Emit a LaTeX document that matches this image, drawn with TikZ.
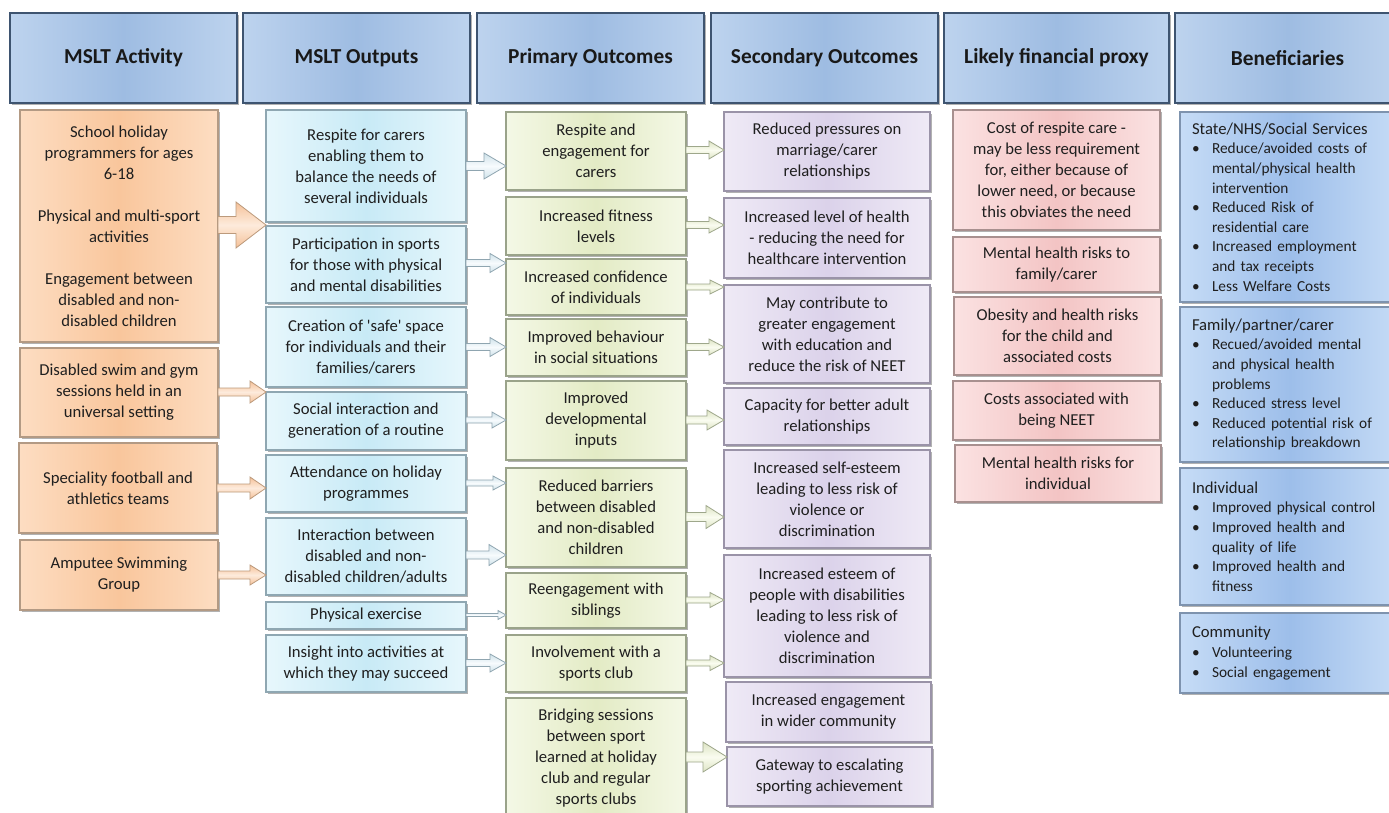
\documentclass[tikz,border=0pt]{standalone}
\usepackage{fontspec}
\newfontfamily\bodyfont{Carlito}
\usetikzlibrary{shadows,calc}

% palette
\definecolor{hdrA}{HTML}{BDD3EE}
\definecolor{hdrB}{HTML}{9EBCE2}
\definecolor{hdrLine}{HTML}{3E5470}
\definecolor{orA}{HTML}{FDDDC2}
\definecolor{orB}{HTML}{F9C69C}
\definecolor{orLine}{HTML}{B39A84}
\definecolor{cyA}{HTML}{E7F7FC}
\definecolor{cyB}{HTML}{C8EAF6}
\definecolor{cyLine}{HTML}{8FA7B2}
\definecolor{grA}{HTML}{F4F8E6}
\definecolor{grB}{HTML}{E3EBC5}
\definecolor{grLine}{HTML}{9AA38A}
\definecolor{puA}{HTML}{EFEAF6}
\definecolor{puB}{HTML}{DBD2EA}
\definecolor{puLine}{HTML}{9A93A8}
\definecolor{pkA}{HTML}{FBE2E2}
\definecolor{pkB}{HTML}{F3C4C4}
\definecolor{pkLine}{HTML}{A8908F}
\definecolor{bnA}{HTML}{C6DCF6}
\definecolor{bnB}{HTML}{9DBEEA}
\definecolor{bnLine}{HTML}{7E93AE}
\definecolor{oaA}{HTML}{FDEBDC}
\definecolor{oaB}{HTML}{F5C198}
\definecolor{oaLine}{HTML}{BC9A7C}
\definecolor{caA}{HTML}{F7FBFD}
\definecolor{caB}{HTML}{CFE2EA}
\definecolor{caLine}{HTML}{8FA5B0}
\definecolor{gaA}{HTML}{FAFCF0}
\definecolor{gaB}{HTML}{DDE4C4}
\definecolor{gaLine}{HTML}{9EA78B}

\tikzset{
  cell/.style={inner sep=0pt, outer sep=0pt, align=center,
    font=\bodyfont\fontsize{12.5}{15.75}\selectfont, text=black!88,
    line width=1.2pt,
    drop shadow={shadow xshift=1.3pt, shadow yshift=-1.3pt, opacity=0.3, fill=black}},
  hdr/.style={cell, draw=hdrLine, line width=2.2pt,
    left color=hdrA, right color=hdrA, middle color=hdrB,
    font=\bodyfont\bfseries\fontsize{16}{19}\selectfont, text=black!90},
  act/.style={cell, draw=orLine, left color=orA, right color=orA, middle color=orB},
  outp/.style={cell, draw=cyLine, left color=cyA, right color=cyA, middle color=cyB},
  prim/.style={cell, draw=grLine, left color=grA, right color=grA, middle color=grB},
  seco/.style={cell, draw=puLine, left color=puA, right color=puA, middle color=puB},
  proxy/.style={cell, draw=pkLine, left color=pkA, right color=pkA, middle color=pkB},
  ben/.style={cell, draw=bnLine, left color=bnA, right color=bnA, middle color=bnB,
    align=left, text width=147pt,
    font=\bodyfont\fontsize{11.5}{14.7}\selectfont},
  oarrow/.style={draw=oaLine, line width=0.6pt, top color=oaB, bottom color=oaB, middle color=oaA},
  carrow/.style={draw=caLine, line width=0.6pt, top color=caB, bottom color=caB, middle color=caA},
  garrow/.style={draw=gaLine, line width=0.6pt, top color=gaB, bottom color=gaB, middle color=gaA}
}

% box given by its corners (x1,y1) (x2,y2) in pixel units
\newcommand\cellbox[7]{\node[#2, minimum width={(#5-#3)*0.75pt},
  minimum height={(#6-#4)*0.75pt}] (#1) at ({(#3+#5)/2},{(#4+#6)/2}) {#7};}

% block arrow from the east side of #2 to the west side of #3 at height #4;
% #5 half shaft, #6 half head, #7 head length (pixel units)
\newcommand\blockarrow[7]{%
  \draw[#1] let \p1=(#2.east), \p2=(#3.west), \p3=(0,#4) in
    (\x1,\y3+#5*0.75pt) -- (\x2-#7*0.75pt,\y3+#5*0.75pt)
    -- (\x2-#7*0.75pt,\y3+#6*0.75pt) -- (\x2,\y3)
    -- (\x2-#7*0.75pt,\y3-#6*0.75pt) -- (\x2-#7*0.75pt,\y3-#5*0.75pt)
    -- (\x1,\y3-#5*0.75pt) -- cycle;}

\newcommand\bul[1]{\makebox[15pt][l]{\textbullet}\mbox{#1}}
\newcommand\cnt[1]{\hspace*{15pt}\mbox{#1}}
\newcommand\bhead[1]{{\fontsize{12.5}{14.7}\selectfont #1}}

\begin{document}
\begin{tikzpicture}[x=0.75pt, y=-0.75pt]
\useasboundingbox (0,0) rectangle (1389,813);
\fill[white] (0,0) rectangle (1389,813);
\clip (0,0) rectangle (1389,813);

% column headers
\cellbox{h1}{hdr}{10}{13}{237}{103}{MSLT Activity}
\cellbox{h2}{hdr}{243}{13}{470}{103}{MSLT Outputs}
\cellbox{h3}{hdr}{477}{13}{704}{103}{Primary Outcomes}
\cellbox{h4}{hdr}{711}{13}{938}{103}{Secondary Outcomes}
\cellbox{h5}{hdr}{944}{13}{1169}{103}{Likely financial proxy}
\cellbox{h6}{hdr}{1175}{13}{1400}{103}{Beneficiaries}

% activities
\cellbox{a1}{act}{20}{110}{218}{342}{School holiday\\programmers for ages\\6-18\\[15.75pt]Physical and multi-sport\\activities\\[15.75pt]Engagement between\\disabled and non-\\disabled children}
\cellbox{a2}{act}{20}{348}{218}{437}{Disabled swim and gym\\sessions held in an\\universal setting}
\cellbox{a3}{act}{19}{443}{217}{533}{Speciality football and\\athletics teams}
\cellbox{a4}{act}{20}{540}{218}{610}{Amputee Swimming\\Group}

% outputs
\cellbox{b1}{outp}{266}{110}{466}{222}{Respite for carers\\enabling them to\\balance the needs of\\several individuals}
\cellbox{b2}{outp}{266}{226}{466}{303}{Participation in sports\\for those with physical\\and mental disabilities}
\cellbox{b3}{outp}{266}{307}{466}{387}{Creation of 'safe' space\\for individuals and their\\families/carers}
\cellbox{b4}{outp}{266}{392}{466}{450}{Social interaction and\\generation of a routine}
\cellbox{b5}{outp}{266}{455}{466}{512}{Attendance on holiday\\programmes}
\cellbox{b6}{outp}{266}{518}{466}{595}{Interaction between\\disabled and non-\\disabled children/adults}
\cellbox{b7}{outp}{266}{602}{466}{629}{Physical exercise}
\cellbox{b8}{outp}{266}{635}{466}{692}{Insight into activities at\\which they may succeed}

% primary outcomes
\cellbox{c1}{prim}{506}{112}{686}{190}{Respite and\\engagement for\\carers}
\cellbox{c2}{prim}{506}{197}{686}{255}{Increased fitness\\levels}
\cellbox{c3}{prim}{506}{259}{686}{315}{Increased confidence\\of individuals}
\cellbox{c4}{prim}{506}{319}{686}{376}{Improved behaviour\\in social situations}
\cellbox{c5}{prim}{506}{381}{686}{460}{Improved\\developmental\\inputs}
\cellbox{c6}{prim}{506}{468}{686}{567}{Reduced barriers\\between disabled\\and non-disabled\\children}
\cellbox{c7}{prim}{506}{573}{686}{628}{Reengagement with\\siblings}
\cellbox{c8}{prim}{506}{635}{686}{692}{Involvement with a\\sports club}
\cellbox{c9}{prim}{506}{698}{686}{818}{Bridging sessions\\between sport\\learned at holiday\\club and regular\\sports clubs}

% secondary outcomes
\cellbox{d1}{seco}{724}{112}{930}{191}{Reduced pressures on\\marriage/carer\\relationships}
\cellbox{d2}{seco}{724}{198}{930}{278}{Increased level of health\\- reducing the need for\\healthcare intervention}
\cellbox{d3}{seco}{724}{285}{930}{383}{May contribute to\\greater engagement\\with education and\\reduce the risk of NEET}
\cellbox{d4}{seco}{724}{388}{930}{445}{Capacity for better adult\\relationships}
\cellbox{d5}{seco}{724}{450}{930}{548}{Increased self-esteem\\leading to less risk of\\violence or\\discrimination}
\cellbox{d6}{seco}{724}{555}{930}{677}{Increased esteem of\\people with disabilities\\leading to less risk of\\violence and\\discrimination}
\cellbox{d7}{seco}{726}{682}{931}{742}{Increased engagement\\in wider community}
\cellbox{d8}{seco}{727}{747}{932}{806}{Gateway to escalating\\sporting achievement}

% financial proxies
\cellbox{e1}{proxy}{953}{110}{1160}{230}{Cost of respite care -\\may be less requirement\\for, either because of\\lower need, or because\\this obviates the need}
\cellbox{e2}{proxy}{953}{237}{1160}{292}{Mental health risks to\\family/carer}
\cellbox{e3}{proxy}{954}{297}{1161}{375}{Obesity and health risks\\for the child and\\associated costs}
\cellbox{e4}{proxy}{953}{381}{1160}{440}{Costs associated with\\being NEET}
\cellbox{e5}{proxy}{955}{445}{1161}{502}{Mental health risks for\\individual}

% beneficiaries
\cellbox{f1}{ben}{1180}{112}{1400}{302}{\bhead{State/NHS/Social Services}\\\bul{Reduce/avoided costs of}\\\cnt{mental/physical health}\\\cnt{intervention}\\\bul{Reduced Risk of}\\\cnt{residential care}\\\bul{Increased employment}\\\cnt{and tax receipts}\\\bul{Less Welfare Costs}}
\cellbox{f2}{ben}{1180}{307}{1400}{462}{\bhead{Family/partner/carer}\\\bul{Recued/avoided mental}\\\cnt{and physical health}\\\cnt{problems}\\\bul{Reduced stress level}\\\bul{Reduced potential risk of}\\\cnt{relationship breakdown}}
\cellbox{f3}{ben}{1180}{468}{1400}{605}{\bhead{Individual}\\\bul{Improved physical control}\\\bul{Improved health and}\\\cnt{quality of life}\\\bul{Improved health and}\\\cnt{fitness}}
\cellbox{f4}{ben}{1180}{613}{1400}{693}{\bhead{Community}\\\bul{Volunteering}\\\bul{Social engagement}}

% activities -> outputs
\blockarrow{oarrow}{a1}{b1}{225}{8.5}{23}{30}
\blockarrow{oarrow}{a2}{b4}{392}{4}{11}{16}
\blockarrow{oarrow}{a3}{b5}{488}{4}{11}{16}
\blockarrow{oarrow}{a4}{b6}{575}{4}{10}{16}

% outputs -> primary outcomes
\blockarrow{carrow}{b1}{c1}{166}{4.5}{13}{22}
\blockarrow{carrow}{b2}{c3}{263}{3.5}{9.5}{16}
\blockarrow{carrow}{b3}{c4}{347}{3.5}{9.5}{16}
\blockarrow{carrow}{b4}{c5}{420}{3}{8}{14}
\blockarrow{carrow}{b5}{c6}{483}{3}{7}{13}
\blockarrow{carrow}{b6}{c6}{555}{4}{10.5}{17}
\blockarrow{carrow}{b7}{c7}{615}{1.5}{4.5}{8}
\blockarrow{carrow}{b8}{c8}{663}{3.5}{9}{16}

% primary -> secondary outcomes
\blockarrow{garrow}{c1}{d1}{150}{3.5}{9}{15}
\blockarrow{garrow}{c2}{d2}{225}{3.5}{8}{15}
\blockarrow{garrow}{c3}{d3}{287}{3}{7}{14}
\blockarrow{garrow}{c4}{d3}{347}{3.5}{8}{15}
\blockarrow{garrow}{c5}{d4}{420}{4}{10}{17}
\blockarrow{garrow}{c6}{d5}{517}{4.5}{11.5}{18}
\blockarrow{garrow}{c7}{d6}{600}{3}{7.5}{14}
\blockarrow{garrow}{c8}{d6}{663}{3}{7.5}{14}
\blockarrow{garrow}{c9}{d8}{757}{5}{15}{24}
\end{tikzpicture}
\end{document}
